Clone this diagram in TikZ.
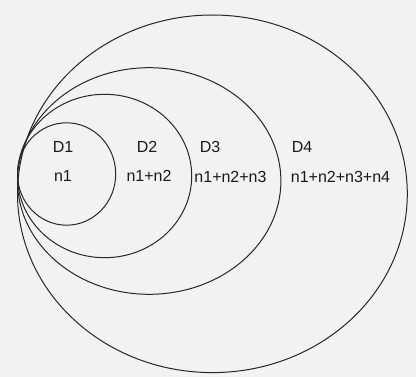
\documentclass[tikz,border=0pt]{standalone}
\usepackage{fontspec}
\setmainfont{Liberation Sans}
\tikzset{
  ring/.style={draw=black!85,line width=1pt},
  lbl/.style={inner sep=0pt,text=black!90,font=\fontsize{16}{18}\selectfont}
}
\begin{document}
\begin{tikzpicture}[x=1pt,y=-1pt]

% Background
\fill[black!5](0,0) rectangle (416,377);
\useasboundingbox (0,0) rectangle (416,377);

% Domains
\draw[ring](66.6,174) ellipse [x radius=49.1,y radius=51.2];
\draw[ring](104.6,176) ellipse [x radius=87.1,y radius=81.7];
\draw[ring](149.2,181) ellipse [x radius=131.7,y radius=113.3];
\draw[ring](212.4,193.8) ellipse [x radius=194.9,y radius=178.8];

% Names
\node[lbl] (d1) at (63,147) {D1};
\node[lbl] (d2) at (147,147) {D2};
\node[lbl] (d3) at (210,147) {D3};
\node[lbl] (d4) at (302,147) {D4};

% Sizes
\node[lbl] (s1) at (63,176) {n1};
\node[lbl] (s2) at (149,176) {n1+n2};
\node[lbl] (s3) at (230.5,177) {n1+n2+n3};
\node[lbl] (s4) at (340.5,177) {n1+n2+n3+n4};

\end{tikzpicture}
\end{document}
